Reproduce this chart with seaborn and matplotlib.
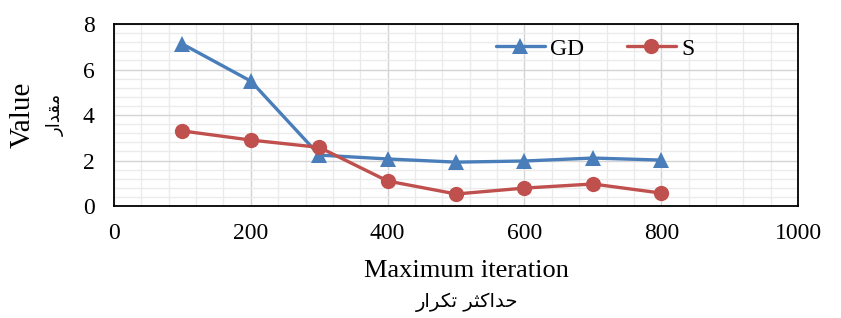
import matplotlib
matplotlib.use("Agg")
import matplotlib.pyplot as plt
from matplotlib.ticker import MultipleLocator
import seaborn as sns
import pandas as pd

# data
iterations = [100, 200, 300, 400, 500, 600, 700, 800]
gd_values = [7.12, 5.49, 2.24, 2.07, 1.93, 1.98, 2.11, 2.02]
s_values = [3.30, 2.90, 2.58, 1.10, 0.53, 0.79, 0.97, 0.57]
series_names = ["GD", "S"]
x_ticks = [0, 200, 400, 600, 800, 1000]
y_ticks = [0, 2, 4, 6, 8]

# Arabic/Persian labels, pre-shaped in visual order (matplotlib does no shaping)
ylabel_fa = "\uFEAD\uFE8D\uFEAA\uFED8\uFEE3"  # مقدار
xlabel_fa = ("\uFEAD\uFE8D\uFEAE\uFB91\uFE97 "
             "\uFEAE\uFE9C\uFB90\uFE8D\uFEAA\uFEA3")  # حداکثر تکرار

df = pd.concat([
    pd.DataFrame({"iter": iterations, "value": gd_values, "series": "GD"}),
    pd.DataFrame({"iter": iterations, "value": s_values, "series": "S"}),
])

sns.set_style("white")
plt.rcParams["font.family"] = ["Liberation Serif", "DejaVu Sans"]
plt.rcParams["text.color"] = "black"
plt.rcParams["xtick.color"] = "black"
plt.rcParams["ytick.color"] = "black"

fig = plt.figure(figsize=(8.41, 3.18), dpi=100)
ax = fig.add_axes([0.1356, 0.352, 0.8134, 0.5725])

palette = {"GD": "#4A7EBB", "S": "#C0504D"}
markers = {"GD": "^", "S": "o"}
sns.lineplot(data=df, x="iter", y="value", hue="series", style="series",
             hue_order=series_names, style_order=series_names,
             palette=palette, markers=markers, dashes=False,
             linewidth=2.4, markersize=11, markeredgewidth=0, ax=ax, zorder=3)

ax.set_xlim(0, 1000)
ax.set_ylim(0, 8)
ax.set_xticks(x_ticks)
ax.set_yticks(y_ticks)
ax.xaxis.set_minor_locator(MultipleLocator(40))
ax.yaxis.set_minor_locator(MultipleLocator(0.4))
ax.grid(which="minor", color="#EBEBEB", linewidth=1.0, zorder=0)
ax.grid(which="major", color="#D4D4D4", linewidth=1.0, zorder=1)
ax.set_axisbelow(True)
ax.tick_params(which="both", length=0, labelsize=17, labelcolor="black")
ax.tick_params(axis="x", pad=12)
ax.tick_params(axis="y", pad=14)
for sp in ax.spines.values():
    sp.set_visible(True)
    sp.set_color("black")
    sp.set_linewidth(1.3)

ax.set_xlabel("")
ax.set_ylabel("")
fig.text(0.555, 0.148, "Maximum iteration", ha="center", va="center", fontsize=19)
fig.text(0.555, 0.05, xlabel_fa, ha="center", va="center", fontsize=14,
         family=["DejaVu Sans"])
fig.text(0.027, 0.64, "Value", ha="center", va="center", rotation=90, fontsize=21)
fig.text(0.066, 0.64, ylabel_fa, ha="center", va="center", rotation=90,
         fontsize=13, family=["DejaVu Sans"])

leg = ax.legend(loc="upper center", bbox_to_anchor=(0.703, 1.04), ncol=2,
                frameon=False, fontsize=17, handlelength=2.1,
                columnspacing=1.8, handletextpad=0.2)

fig.savefig("out.png", dpi=100)
